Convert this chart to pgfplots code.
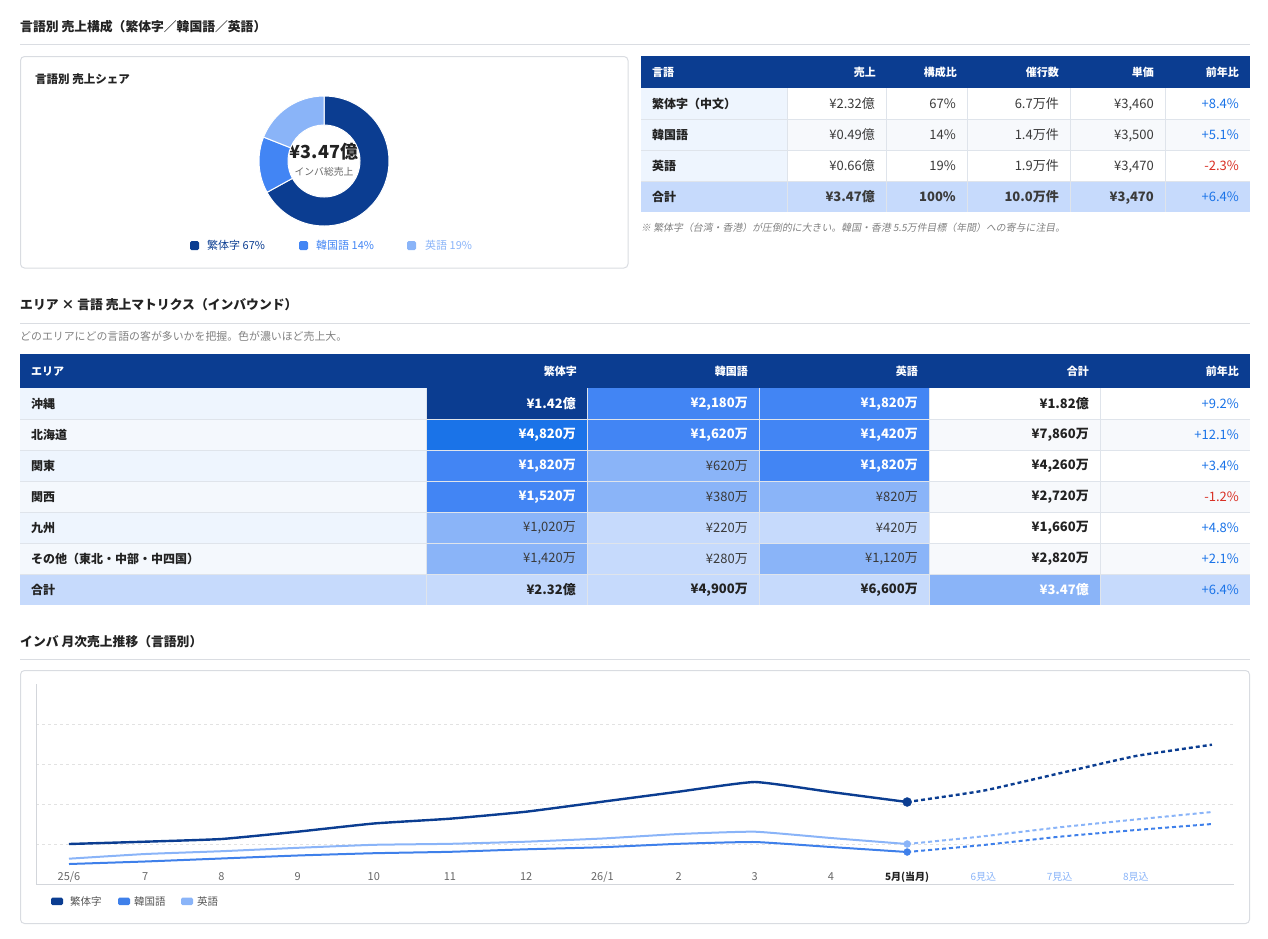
\documentclass[border=0pt]{standalone}
\usepackage{fontspec}
\setmainfont{Noto Sans CJK JP}
\newfontfamily\notefont[FakeSlant=0.18]{Noto Sans CJK JP}
\usepackage{pgfplots}
\pgfplotsset{compat=1.18}
\definecolor{navy}{HTML}{0B3D91}
\definecolor{hmA}{HTML}{1A73E8}
\definecolor{hmB}{HTML}{4285F4}
\definecolor{hmC}{HTML}{8AB4F8}
\definecolor{hmD}{HTML}{C6DAFC}
\definecolor{lblbg}{HTML}{EEF5FE}
\definecolor{lblbgb}{HTML}{F4F8FD}
\definecolor{altbg}{HTML}{F7F9FC}
\definecolor{cellline}{HTML}{DFE4EB}
\definecolor{rulec}{HTML}{DADDE2}
\definecolor{cardc}{HTML}{D9DCE1}
\definecolor{ink}{HTML}{222222}
\definecolor{cell}{HTML}{3A3A3A}
\definecolor{muted}{HTML}{808080}
\definecolor{yoyb}{HTML}{1A73E8}
\definecolor{yoyr}{HTML}{D93025}
\definecolor{linemed}{HTML}{3F80EA}
\definecolor{tickc}{HTML}{666666}
\definecolor{gridc}{HTML}{E2E2E2}
\definecolor{axisc}{HTML}{D3D6DB}
\definecolor{legtxt}{HTML}{555555}
\newcommand\fs[1]{\fontsize{#1}{#1}\selectfont}
\newcommand\tx[2]{\fs{#1}\rule[-.12em]{0pt}{1em}#2}
% table 1 row
\newcommand\trow[8]{%
 \node[anchor=west,inner sep=0pt,text=ink] at (652,#1) {\tx{12}{\bfseries #2}};
 \node[anchor=east,inner sep=0pt,text=cell] at (875,#1) {\tx{13}{#3}};
 \node[anchor=east,inner sep=0pt,text=cell] at (956,#1) {\tx{13}{#4}};
 \node[anchor=east,inner sep=0pt,text=cell] at (1059,#1) {\tx{13}{#5}};
 \node[anchor=east,inner sep=0pt,text=cell] at (1154,#1) {\tx{13}{#6}};
 \node[anchor=east,inner sep=0pt,text=#8] at (1239,#1) {\tx{13}{#7}};}
% heat cell
\newcommand\hc[6]{%
 \fill[#4] (#1,#3) rectangle (#2,#3+31);
 \node[anchor=east,inner sep=0pt,text=#5] at (#2-11,#3+15.5) {\tx{13}{#6}};}
\newcommand\lbl[3]{%
 \fill[#3] (20,#1) rectangle (426,#1+31);
 \node[anchor=west,inner sep=0pt,text=ink] at (31,#1+15.5) {\tx{12}{\bfseries #2}};}
\begin{document}
\begin{tikzpicture}
\pgfmathsetmacro\aA{90}
\pgfmathsetmacro\aB{90-67*3.6}
\pgfmathsetmacro\aC{\aB-14*3.6}
\pgfmathsetmacro\aD{\aC-19*3.6}
\begin{scope}[x=1pt,y=-1pt]
\path (0,0) rectangle (1268,938);
% ===== Section 1
\node[anchor=west,inner sep=0pt,text=ink] at (20,27) {\tx{12.8}{\bfseries 言語別 売上構成（繁体字／韓国語／英語）}};
\draw[rulec,line width=1pt] (20,44) -- (1250,44);
\draw[cardc,line width=1pt,rounded corners=4pt] (20.5,56.5) rectangle (628,268);
\node[anchor=west,inner sep=0pt,text=ink] at (35,79) {\tx{11.5}{\bfseries 言語別 売上シェア}};
\node[inner sep=0pt,text=ink] at (324,152) {\tx{18}{\bfseries ¥3.47億}};
\node[inner sep=0pt,text=tickc] at (324,172) {\tx{9.8}{インバ総売上}};
\fill[navy,rounded corners=1.5pt] (190,241) rectangle (199,250);
\node[anchor=west,inner sep=0pt,text=navy] at (207,245.5) {\tx{11}{繁体字 67\%}};
\fill[hmB,rounded corners=1.5pt] (299,241) rectangle (308,250);
\node[anchor=west,inner sep=0pt,text=hmB] at (316,245.5) {\tx{11}{韓国語 14\%}};
\fill[hmC,rounded corners=1.5pt] (407,241) rectangle (416,250);
\node[anchor=west,inner sep=0pt,text=hmC] at (425,245.5) {\tx{11}{英語 19\%}};
% table 1
\fill[navy] (641,56) rectangle (1250,88);
\node[anchor=west,inner sep=0pt,text=white] at (652,72) {\tx{11}{\bfseries 言語}};
\node[anchor=east,inner sep=0pt,text=white] at (876,72) {\tx{11}{\bfseries 売上}};
\node[anchor=east,inner sep=0pt,text=white] at (957,72) {\tx{11}{\bfseries 構成比}};
\node[anchor=east,inner sep=0pt,text=white] at (1059,72) {\tx{11}{\bfseries 催行数}};
\node[anchor=east,inner sep=0pt,text=white] at (1154,72) {\tx{11}{\bfseries 単価}};
\node[anchor=east,inner sep=0pt,text=white] at (1239,72) {\tx{11}{\bfseries 前年比}};
\fill[lblbg] (641,88) rectangle (787,181);
\fill[white] (787,88) rectangle (1250,119);
\fill[altbg] (787,119) rectangle (1250,150);
\fill[white] (787,150) rectangle (1250,181);
\fill[hmD] (641,181) rectangle (1250,212);
\draw[cellline,line width=1pt] (641,119)--(1250,119) (641,150)--(1250,150) (641,181)--(1250,181);
\foreach \x in {787,886,967,1070,1165} \draw[cellline,line width=1pt] (\x,88)--(\x,212);
\trow{104}{繁体字（中文）}{¥2.32億}{67\%}{6.7万件}{¥3,460}{+8.4\%}{yoyb}
\trow{135}{韓国語}{¥0.49億}{14\%}{1.4万件}{¥3,500}{+5.1\%}{yoyb}
\trow{166}{英語}{¥0.66億}{19\%}{1.9万件}{¥3,470}{-2.3\%}{yoyr}
\trow{197}{合計}{\bfseries ¥3.47億}{\bfseries 100\%}{\bfseries 10.0万件}{\bfseries ¥3,470}{+6.4\%}{yoyb}
\node[anchor=west,inner sep=0pt,text=muted] at (641,228) {\tx{9.9}{\notefont ※ 繁体字（台湾・香港）が圧倒的に大きい。韓国・香港 5.5万件目標（年間）への寄与に注目。}};
% ===== Section 2
\node[anchor=west,inner sep=0pt,text=ink] at (20,305) {\tx{12.8}{\bfseries エリア × 言語 売上マトリクス（インバウンド）}};
\draw[rulec,line width=1pt] (20,323) -- (1250,323);
\node[anchor=west,inner sep=0pt,text=muted] at (20,336) {\tx{10.9}{どのエリアにどの言語の客が多いかを把握。色が濃いほど売上大。}};
\fill[navy] (20,354) rectangle (1250,388);
\node[anchor=west,inner sep=0pt,text=white] at (31,371) {\tx{11}{\bfseries エリア}};
\node[anchor=east,inner sep=0pt,text=white] at (577,371) {\tx{11}{\bfseries 繁体字}};
\node[anchor=east,inner sep=0pt,text=white] at (748,371) {\tx{11}{\bfseries 韓国語}};
\node[anchor=east,inner sep=0pt,text=white] at (918,371) {\tx{11}{\bfseries 英語}};
\node[anchor=east,inner sep=0pt,text=white] at (1089,371) {\tx{11}{\bfseries 合計}};
\node[anchor=east,inner sep=0pt,text=white] at (1239,371) {\tx{11}{\bfseries 前年比}};
% rows
\lbl{388}{沖縄}{lblbg}
\hc{426}{587}{388}{navy}{white}{\bfseries ¥1.42億}
\hc{587}{759}{388}{hmB}{white}{\bfseries ¥2,180万}
\hc{759}{929}{388}{hmB}{white}{\bfseries ¥1,820万}
\hc{929}{1100}{388}{white}{ink}{\bfseries ¥1.82億}
\hc{1100}{1250}{388}{white}{yoyb}{+9.2\%}
\lbl{419}{北海道}{lblbgb}
\hc{426}{587}{419}{hmA}{white}{\bfseries ¥4,820万}
\hc{587}{759}{419}{hmB}{white}{\bfseries ¥1,620万}
\hc{759}{929}{419}{hmB}{white}{\bfseries ¥1,420万}
\hc{929}{1100}{419}{altbg}{ink}{\bfseries ¥7,860万}
\hc{1100}{1250}{419}{altbg}{yoyb}{+12.1\%}
\lbl{450}{関東}{lblbg}
\hc{426}{587}{450}{hmB}{white}{\bfseries ¥1,820万}
\hc{587}{759}{450}{hmC}{cell}{¥620万}
\hc{759}{929}{450}{hmB}{white}{\bfseries ¥1,820万}
\hc{929}{1100}{450}{white}{ink}{\bfseries ¥4,260万}
\hc{1100}{1250}{450}{white}{yoyb}{+3.4\%}
\lbl{481}{関西}{lblbgb}
\hc{426}{587}{481}{hmB}{white}{\bfseries ¥1,520万}
\hc{587}{759}{481}{hmC}{cell}{¥380万}
\hc{759}{929}{481}{hmC}{cell}{¥820万}
\hc{929}{1100}{481}{altbg}{ink}{\bfseries ¥2,720万}
\hc{1100}{1250}{481}{altbg}{yoyr}{-1.2\%}
\lbl{512}{九州}{lblbg}
\hc{426}{587}{512}{hmC}{cell}{¥1,020万}
\hc{587}{759}{512}{hmD}{cell}{¥220万}
\hc{759}{929}{512}{hmD}{cell}{¥420万}
\hc{929}{1100}{512}{white}{ink}{\bfseries ¥1,660万}
\hc{1100}{1250}{512}{white}{yoyb}{+4.8\%}
\lbl{543}{その他（東北・中部・中四国）}{lblbgb}
\hc{426}{587}{543}{hmC}{cell}{¥1,420万}
\hc{587}{759}{543}{hmD}{cell}{¥280万}
\hc{759}{929}{543}{hmC}{cell}{¥1,120万}
\hc{929}{1100}{543}{altbg}{ink}{\bfseries ¥2,820万}
\hc{1100}{1250}{543}{altbg}{yoyb}{+2.1\%}
\lbl{574}{合計}{hmD}
\hc{426}{587}{574}{hmD}{ink}{\bfseries ¥2.32億}
\hc{587}{759}{574}{hmD}{ink}{\bfseries ¥4,900万}
\hc{759}{929}{574}{hmD}{ink}{\bfseries ¥6,600万}
\hc{929}{1100}{574}{hmC}{white}{\bfseries ¥3.47億}
\hc{1100}{1250}{574}{hmD}{yoyb}{+6.4\%}
\foreach \y in {419,450,481,512,543,574} \draw[cellline,line width=1pt] (20,\y)--(1250,\y);
\foreach \x in {426,587,759,929,1100} \draw[cellline,line width=1pt] (\x,388)--(\x,605);
% ===== Section 3
\node[anchor=west,inner sep=0pt,text=ink] at (20,642) {\tx{12.8}{\bfseries インバ 月次売上推移（言語別）}};
\draw[rulec,line width=1pt] (20,659) -- (1250,659);
\draw[cardc,line width=1pt,rounded corners=4pt] (20.5,670.5) rectangle (1249.5,923.5);
\fill[navy,rounded corners=1.5pt] (51,897.5) rectangle (63,905);
\node[anchor=west,inner sep=0pt,text=legtxt] at (70,901) {\tx{10.5}{繁体字}};
\fill[linemed,rounded corners=1.5pt] (118,897.5) rectangle (130,905);
\node[anchor=west,inner sep=0pt,text=legtxt] at (134,901) {\tx{10.5}{韓国語}};
\fill[hmC,rounded corners=1.5pt] (181,897.5) rectangle (193,905);
\node[anchor=west,inner sep=0pt,text=legtxt] at (197,901) {\tx{10.5}{英語}};
\end{scope}
% ===== donut
\begin{axis}[at={(259pt,-226pt)},anchor=south west,scale only axis,width=130pt,height=130pt,
  xmin=-1,xmax=1,ymin=-1,ymax=1,hide axis,clip=false]
\addplot[draw=none] coordinates {(0,0)};
\coordinate (dc) at (axis cs:0,0);
\fill[navy,draw=white,line width=1pt] ([shift={(\aA:65pt)}]dc) arc[start angle=\aA,end angle=\aB,radius=65pt] -- ([shift={(\aB:36pt)}]dc) arc[start angle=\aB,end angle=\aA,radius=36pt] -- cycle;
\fill[hmB,draw=white,line width=1pt] ([shift={(\aB:65pt)}]dc) arc[start angle=\aB,end angle=\aC,radius=65pt] -- ([shift={(\aC:36pt)}]dc) arc[start angle=\aC,end angle=\aB,radius=36pt] -- cycle;
\fill[hmC,draw=white,line width=1pt] ([shift={(\aC:65pt)}]dc) arc[start angle=\aC,end angle=\aD,radius=65pt] -- ([shift={(\aD:36pt)}]dc) arc[start angle=\aD,end angle=\aC,radius=36pt] -- cycle;
\end{axis}
% ===== line chart
\begin{axis}[at={(36pt,-884pt)},anchor=south west,scale only axis,width=1198pt,height=200pt,
  xmin=-0.433,xmax=15.289,ymin=0,ymax=5000,
  axis x line*=bottom,axis y line*=left,
  axis line style={draw=axisc,line width=1pt,-},
  major tick length=0pt,
  xtick={0,...,14},
  xticklabels={25/6,7,8,9,10,11,12,26/1,2,3,4,{\fs{10}\textcolor{ink}{\bfseries 5月(当月)}},{\fs{10}\textcolor{hmC}{6見込}},{\fs{10}\textcolor{hmC}{7見込}},{\fs{10}\textcolor{hmC}{8見込}}},
  xticklabel style={anchor=center,yshift=8pt,font=\fs{11},text=tickc,inner sep=0pt,text height=8pt,text depth=0pt},
  ytick={1000,2000,3000,4000},yticklabels={},
  ymajorgrids,grid style={draw=gridc,dash pattern=on 3pt off 3pt,line width=0.8pt},
  clip=false]
\addplot[navy,line width=2.4pt,smooth,tension=0.25] coordinates {(0,1000)(1,1058)(2,1125)(3,1308)(4,1513)(5,1633)(6,1808)(7,2058)(8,2308)(9,2550)(10,2300)(11,2050)};
\addplot[navy,line width=2.4pt,dash pattern=on 4pt off 3pt,smooth,tension=0.25] coordinates {(11,2050)(12,2333)(13,2768)(14,3200)(15,3483)};
\addplot[linemed,line width=2pt,smooth,tension=0.25] coordinates {(0,500)(1,563)(2,638)(3,713)(4,770)(5,805)(6,868)(7,920)(8,1005)(9,1050)(10,925)(11,800)};
\addplot[linemed,line width=2pt,dash pattern=on 4pt off 3pt,smooth,tension=0.25] coordinates {(11,800)(12,975)(13,1183)(14,1350)(15,1500)};
\addplot[hmC,line width=2pt,smooth,tension=0.25] coordinates {(0,633)(1,750)(2,820)(3,905)(4,980)(5,1005)(6,1058)(7,1138)(8,1250)(9,1308)(10,1150)(11,1000)};
\addplot[hmC,line width=2pt,dash pattern=on 4pt off 3pt,smooth,tension=0.25] coordinates {(11,1000)(12,1193)(13,1418)(14,1613)(15,1800)};
\addplot[only marks,mark=*,mark size=4.5pt,mark options={fill=navy,draw=navy}] coordinates {(11,2050)};
\addplot[only marks,mark=*,mark size=3.5pt,mark options={fill=linemed,draw=linemed}] coordinates {(11,800)};
\addplot[only marks,mark=*,mark size=3.5pt,mark options={fill=hmC,draw=hmC}] coordinates {(11,1000)};
\end{axis}
\end{tikzpicture}
\end{document}
